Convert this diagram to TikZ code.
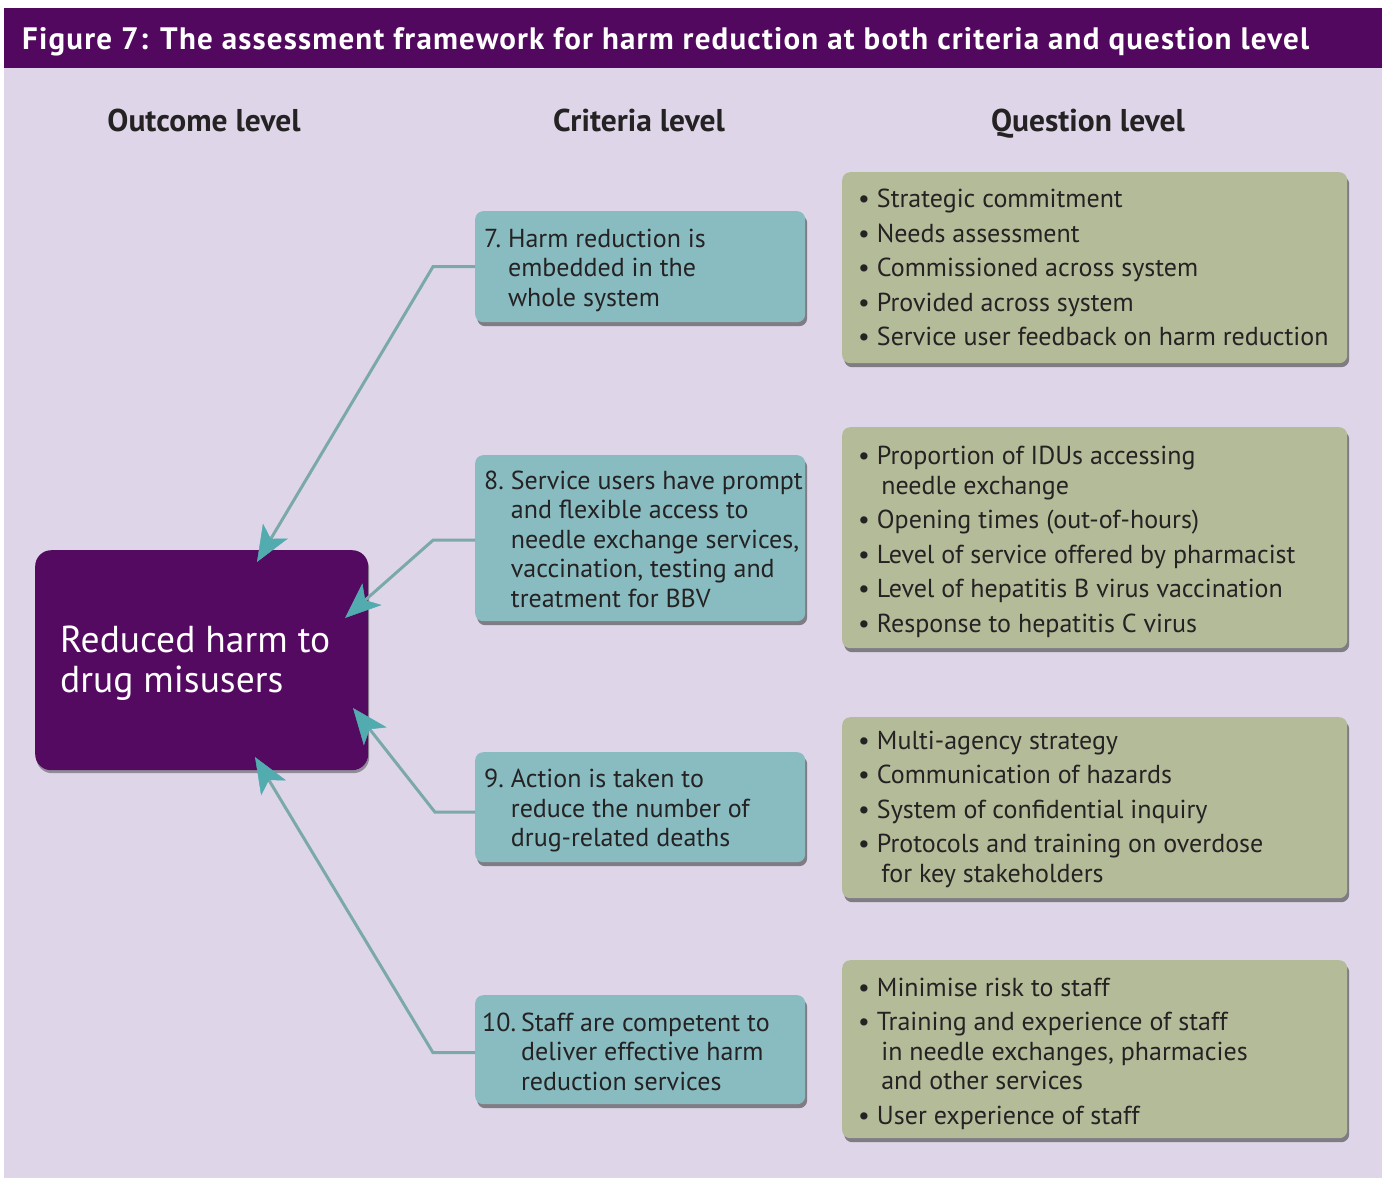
\documentclass[tikz,border=0pt]{standalone}
\usepackage{fontspec}
\setmainfont{PT Sans}
\usetikzlibrary{arrows.meta,shadows}
\definecolor{hdrpurple}{HTML}{52085E}
\definecolor{bglav}{HTML}{DED6E8}
\definecolor{outpurple}{HTML}{540A60}
\definecolor{critfill}{HTML}{88BCC1}
\definecolor{qfill}{HTML}{B4BB98}
\definecolor{inktext}{HTML}{252223}
\definecolor{connline}{HTML}{7BA8AB}
\definecolor{connhead}{HTML}{52ACAF}
\begin{document}
\begin{tikzpicture}[x=1pt,y=-1pt,
  hdrtext/.style={text=white,inner sep=0pt,font=\bfseries\fontsize{31}{34}\selectfont\addfontfeatures{LetterSpace=3.8}},
  colhead/.style={text=inktext,inner sep=0pt,font=\bfseries\fontsize{31.5}{34}\selectfont},
  outbox/.style={fill=outpurple,rounded corners=16pt,inner sep=0pt,anchor=north west,
    drop shadow={shadow xshift=1pt,shadow yshift=-3pt,opacity=.35,fill=black}},
  outtext/.style={text=white,inner sep=0pt,align=left,anchor=west,font=\fontsize{37.5}{40}\selectfont},
  critbox/.style={fill=critfill,rounded corners=8pt,inner sep=0pt,anchor=north west,minimum width=330pt,
    drop shadow={shadow xshift=2pt,shadow yshift=-4pt,opacity=.55,fill=black!80}},
  qbox/.style={fill=qfill,rounded corners=8pt,inner sep=0pt,anchor=north west,minimum width=505pt,
    drop shadow={shadow xshift=2pt,shadow yshift=-4pt,opacity=.55,fill=black!80}},
  boxtext/.style={text=inktext,inner sep=0pt,anchor=west,font=\fontsize{26}{29.5}\selectfont},
  conn/.style={draw=connline,line width=3pt,
    -{Stealth[length=36pt,width=29pt,inset=9pt,color=connhead,line width=0.5pt]}},
]
\useasboundingbox (0,0) rectangle (1387,1178);
\fill[white] (0,0) rectangle (1387,1178);
\fill[bglav] (4,68) rectangle (1382,1178);

% title bar
\node[fill=hdrpurple,anchor=north west,minimum width=1378pt,minimum height=60pt,inner sep=0pt] (hdr) at (4,8) {};
\node[hdrtext,anchor=base west] (title) at (22,49) {Figure 7: The assessment framework for harm reduction at both criteria and question level};

% column headings
\node[colhead,anchor=base] (hout) at (204,131) {Outcome level};
\node[colhead,anchor=base] (hcrit) at (639,131) {Criteria level};
\node[colhead,anchor=base] (hq) at (1088,131) {Question level};

% outcome
\node[outbox,minimum width=333pt,minimum height=220pt] (out) at (35,550) {};
\node[outtext] (outt) at ([xshift=25pt,yshift=-3pt]out.west) {Reduced harm to\\drug misusers};

% criteria boxes
\node[critbox,minimum height=111pt] (c7) at (475,211) {};
\node[critbox,minimum height=166pt] (c8) at (475,455) {};
\node[critbox,minimum height=110pt] (c9) at (475,752) {};
\node[critbox,minimum height=109pt] (c10) at (475,995) {};

\node[boxtext] (c7t) at ([xshift=9pt,yshift=-4pt]c7.west) {\begin{tabular}{@{}l@{\hspace{7pt}}l@{}}
7. & Harm reduction is\\ & embedded in the\\ & whole system\end{tabular}};
\node[boxtext] (c8t) at ([xshift=9pt,yshift=-4pt]c8.west) {\begin{tabular}{@{}l@{\hspace{7pt}}l@{}}
8. & Service users have prompt\\ & and flexible access to\\ & needle exchange services,\\ & vaccination, testing and\\ & treatment for BBV\end{tabular}};
\node[boxtext] (c9t) at ([xshift=9pt,yshift=-4pt]c9.west) {\begin{tabular}{@{}l@{\hspace{7pt}}l@{}}
9. & Action is taken to\\ & reduce the number of\\ & drug-related deaths\end{tabular}};
\node[boxtext] (c10t) at ([xshift=7pt,yshift=-5pt]c10.west) {\begin{tabular}{@{}l@{\hspace{5pt}}l@{}}
10. & Staff are competent to\\ & deliver effective harm\\ & reduction services\end{tabular}};

% question boxes
\node[qbox,minimum height=191pt] (q1) at (842,172) {};
\node[qbox,minimum height=221pt] (q2) at (842,427) {};
\node[qbox,minimum height=181pt] (q3) at (842,717) {};
\node[qbox,minimum height=178pt] (q4) at (842,960) {};

\node[boxtext] (q1t) at ([xshift=16pt,yshift=-3pt]q1.west) {\begin{tabular}{@{}l@{\hspace{7pt}}l@{}}
\textbullet & Strategic commitment\\[5pt]
\textbullet & Needs assessment\\[5pt]
\textbullet & Commissioned across system\\[5pt]
\textbullet & Provided across system\\[5pt]
\textbullet & Service user feedback on harm reduction\end{tabular}};
\node[boxtext] (q2t) at ([xshift=16pt,yshift=-5pt]q2.west) {\begin{tabular}{@{}l@{\hspace{7pt}}l@{}}
\textbullet & Proportion of IDUs accessing\\
 & \,needle exchange\\[5pt]
\textbullet & Opening times (out-of-hours)\\[5pt]
\textbullet & Level of service offered by pharmacist\\[5pt]
\textbullet & Level of hepatitis B virus vaccination\\[5pt]
\textbullet & Response to hepatitis C virus\end{tabular}};
\node[boxtext] (q3t) at ([xshift=16pt,yshift=-2pt]q3.west) {\begin{tabular}{@{}l@{\hspace{7pt}}l@{}}
\textbullet & Multi-agency strategy\\[5pt]
\textbullet & Communication of hazards\\[5pt]
\textbullet & System of confidential inquiry\\[5pt]
\textbullet & Protocols and training on overdose\\
 & \,for key stakeholders\end{tabular}};
\node[boxtext] (q4t) at ([xshift=16pt,yshift=-5pt]q4.west) {\begin{tabular}{@{}l@{\hspace{7pt}}l@{}}
\textbullet & Minimise risk to staff\\[5pt]
\textbullet & Training and experience of staff\\
 & \,in needle exchanges, pharmacies\\
 & \,and other services\\[5pt]
\textbullet & User experience of staff\end{tabular}};

% arrow tips on the outcome box
\coordinate (t7) at (257,562);
\coordinate (t8) at (345,618);
\coordinate (t9) at (353,708);
\coordinate (t10) at (255,757);

% connectors
\draw[conn] (c7.west) -- ++(-42pt,0pt) -- (t7);
\draw[conn] ([yshift=-2pt]c8.west) -- ++(-42pt,0pt) -- (t8);
\draw[conn] ([yshift=-5pt]c9.west) -- ++(-40pt,0pt) -- (t9);
\draw[conn] ([yshift=-3pt]c10.west) -- ++(-42pt,0pt) -- (t10);
\end{tikzpicture}
\end{document}
